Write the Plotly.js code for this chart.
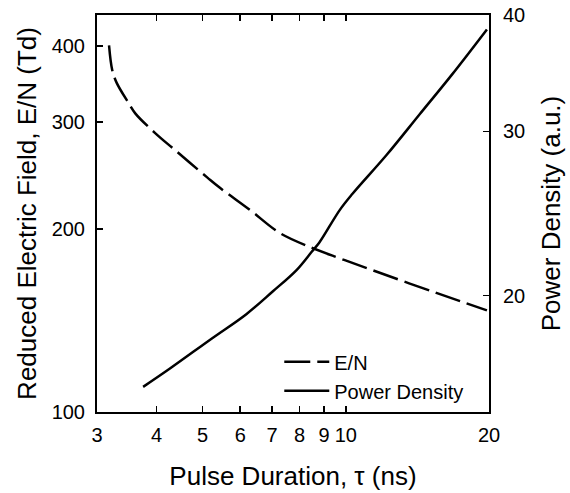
<!DOCTYPE html>
<html>
<head>
<meta charset="utf-8">
<script src="https://cdn.plot.ly/plotly-3.0.1.min.js"></script>
<style>html,body{margin:0;padding:0;background:#fff;}#chart{width:570px;height:493px;}</style>
</head>
<body>
<div id="chart"></div>
<script>
// E/N (Td) vs pulse duration (ns)
const enDuration = [3.18, 3.23, 3.30, 3.49, 3.61, 3.97, 4.37, 5.12, 5.43, 6.29, 7.27, 8.53, 9.71, 11.41, 15.5, 19.8];
const enValues   = [401, 365, 348, 323, 310, 288, 270, 243, 234, 215, 197, 186, 179, 171, 157, 147];

// Power density (a.u.) vs pulse duration (ns)
const pdDuration = [3.75, 4.27, 5.24, 6.18, 7.02, 7.88, 8.49, 8.80, 9.71, 10.32, 12.18, 14.3, 16.7, 19.8];
const pdValues   = [15.96, 16.7, 18.0, 19.1, 20.2, 21.3, 22.3, 22.8, 24.7, 25.7, 28.3, 31.3, 34.5, 38.6];

const xTicks = [3, 4, 5, 6, 7, 8, 9, 10, 20];
const xTickText = ["3", "4", "5", "6", "7", "8", "9", "10", "20"];
const yTicks = [100, 200, 300, 400];
const y2Ticks = [20, 30, 40];

const font = "Liberation Sans, Arial, sans-serif";

const traces = [
  {x: enDuration, y: enValues, name: "E/N", mode: "lines", yaxis: "y",
   line: {color: "#000", width: 2.5, dash: "26px,7px", shape: "spline"}},
  {x: pdDuration, y: pdValues, name: "Power Density", mode: "lines", yaxis: "y2",
   line: {color: "#000", width: 2.5, shape: "spline"}}
];

const layout = {
  width: 570, height: 493,
  margin: {l: 97, r: 81, t: 15, b: 81},
  paper_bgcolor: "#fff", plot_bgcolor: "#fff",
  font: {family: font, color: "#000", size: 20},
  showlegend: true,
  legend: {x: 0.465, y: 0.09, xanchor: "left", yanchor: "middle", bgcolor: "rgba(0,0,0,0)",
           font: {size: 20, family: font}, itemwidth: 45, tracegroupgap: 0},
  xaxis: {
    type: "log", range: [Math.log10(3), Math.log10(20)],
    tickvals: xTicks, ticktext: xTickText,
    ticks: "inside", ticklen: 6, tickwidth: 1.5, tickcolor: "#000",
    showline: true, linecolor: "#000", linewidth: 2, mirror: "ticks",
    showgrid: false, zeroline: false,
    tickfont: {size: 20}, ticklabelstandoff: 4,
    title: {text: "Pulse Duration, τ (ns)", font: {size: 26}, standoff: 22}
  },
  yaxis: {
    type: "log", range: [2, Math.log10(450)],
    tickvals: yTicks, ticktext: yTicks.map(String),
    ticks: "inside", ticklen: 6, tickwidth: 1.5, tickcolor: "#000",
    showline: true, linecolor: "#000", linewidth: 2,
    showgrid: false, zeroline: false,
    tickfont: {size: 20}, ticklabelstandoff: 6,
    title: {text: "Reduced Electric Field, E/N (Td)", font: {size: 26}, standoff: 8}
  },
  yaxis2: {
    type: "log", range: [Math.log10(15), Math.log10(40)],
    overlaying: "y", side: "right",
    tickvals: y2Ticks, ticktext: y2Ticks.map(String),
    ticks: "inside", ticklen: 6, tickwidth: 1.5, tickcolor: "#000",
    showline: true, linecolor: "#000", linewidth: 2,
    showgrid: false, zeroline: false,
    tickfont: {size: 20}, ticklabelstandoff: 8,
    title: {text: "Power Density (a.u.)", font: {size: 26}, standoff: 18}
  }
};

Plotly.newPlot("chart", traces, layout, {displayModeBar: false, staticPlot: true});
</script>
</body>
</html>
